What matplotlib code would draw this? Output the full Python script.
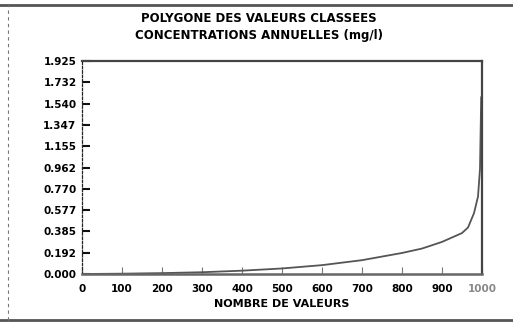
import matplotlib
matplotlib.use("Agg")
import matplotlib.pyplot as plt
from matplotlib.lines import Line2D

# Data
n_values = [0, 100, 200, 300, 400, 500, 600, 700, 800, 850, 900, 950, 965, 980, 990, 995, 998]
concentrations = [0.0, 0.003, 0.008, 0.016, 0.03, 0.05, 0.08, 0.125, 0.19, 0.23, 0.29, 0.37, 0.42, 0.55, 0.70, 0.95, 1.60]
x_ticks = [0, 100, 200, 300, 400, 500, 600, 700, 800, 900, 1000]
y_ticks = [0.0, 0.1925, 0.385, 0.5775, 0.77, 0.9625, 1.155, 1.3475, 1.54, 1.7325, 1.925]
y_labels = ["0.000", "0.192", "0.385", "0.577", "0.770", "0.962",
            "1.155", "1.347", "1.540", "1.732", "1.925"]
title_lines = ["POLYGONE DES VALEURS CLASSEES", "CONCENTRATIONS ANNUELLES (mg/l)"]
xlabel = "NOMBRE DE VALEURS"

W, H = 513, 322
fig = plt.figure(figsize=(W / 100, H / 100), dpi=100)
fig.patch.set_facecolor("white")

left, right, top, bottom = 82 / W, 482 / W, 1 - 61 / H, 1 - 274 / H
ax = fig.add_axes([left, bottom, right - left, top - bottom])

ax.plot(n_values, concentrations, color="#555555", lw=1.3, solid_capstyle="round")
ax.set_xlim(0, 1000)
ax.set_ylim(0, 1.925)

for s in ["top", "right"]:
    ax.spines[s].set_color("#444444")
    ax.spines[s].set_linewidth(1.6)
ax.spines["bottom"].set_color("#666666")
ax.spines["bottom"].set_linewidth(1.8)
ax.spines["left"].set_color("#222222")
ax.spines["left"].set_linewidth(0.9)
ax.spines["left"].set_linestyle((0, (2, 1.5)))

ax.set_xticks(x_ticks)
ax.set_xticklabels([str(v) for v in x_ticks])
ax.set_yticks(y_ticks)
ax.set_yticklabels(y_labels)
ax.tick_params(axis="x", direction="in", length=5, width=0.8, color="#777777",
               labelsize=7.5, pad=7)
ax.tick_params(axis="y", direction="in", length=6, width=1.5, color="#111111",
               labelsize=7.5, pad=4)
for lab in ax.get_xticklabels() + ax.get_yticklabels():
    lab.set_fontweight("bold")
ax.get_xticklabels()[-1].set_color("#888888")

ax.set_xlabel(xlabel, fontsize=8, fontweight="bold", labelpad=4)

fig.text(0.505, 1 - 18 / H, title_lines[0], ha="center", va="center",
         fontsize=8.5, fontweight="bold")
fig.text(0.505, 1 - 35 / H, title_lines[1], ha="center", va="center",
         fontsize=8.5, fontweight="bold")

# outer frame lines of the scanned page
fig.add_artist(Line2D([0.0, 1.0], [1 - 5 / H, 1 - 5 / H], transform=fig.transFigure,
                      color="#555555", lw=2.0))
fig.add_artist(Line2D([0.0, 1.0], [1 - 320 / H, 1 - 320 / H], transform=fig.transFigure,
                      color="#555555", lw=2.0))
fig.add_artist(Line2D([8 / W, 8 / W], [1 - 320 / H, 1 - 5 / H], transform=fig.transFigure,
                      color="#777777", lw=0.8, linestyle=(0, (3, 3))))

fig.savefig("out.png", dpi=100, facecolor="white")
